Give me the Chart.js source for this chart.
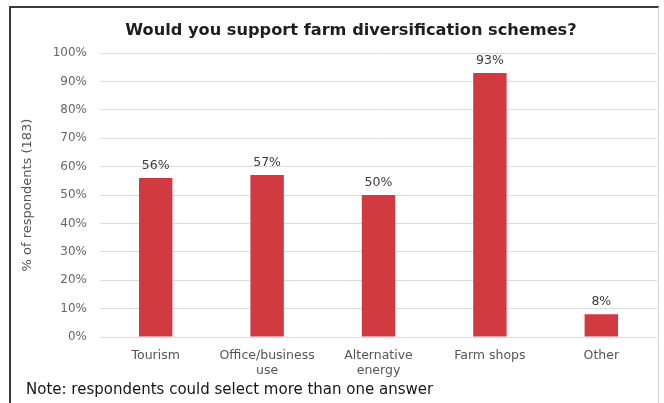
<!DOCTYPE html>
<html>
<head>
<meta charset="utf-8">
<script src="https://cdn.jsdelivr.net/npm/chart.js@4.4.1/dist/chart.umd.min.js"></script>
<style>
  html, body { margin: 0; padding: 0; background: #ffffff; }
  #wrap { position: relative; width: 664px; height: 403px; overflow: hidden; }
  #frame {
    position: absolute; left: 9px; top: 6px; width: 650px; height: 420px;
    border-top: 2px solid #3a3a3a; border-left: 2px solid #3a3a3a;
    border-right: 1px solid #d4d4d4; box-sizing: border-box;
  }
  #title {
    position: absolute; left: 351px; top: 20px; transform: translateX(-50%);
    font: bold 16.2px "DejaVu Sans", Verdana, sans-serif; color: #1e1e1e;
    white-space: nowrap;
  }
  #note {
    position: absolute; left: 26px; top: 380px;
    font: 15px "DejaVu Sans", Verdana, sans-serif; color: #151515;
    white-space: nowrap;
  }
  canvas { position: absolute; left: 0; top: 0; }
</style>
</head>
<body>
<div id="wrap">
  <div id="frame"></div>
  <canvas id="chart" width="664" height="403"></canvas>
  <div id="title">Would you support farm diversification schemes?</div>
  <div id="note">Note: respondents could select more than one answer</div>
</div>
<script>
// Survey answers: share of respondents supporting each diversification scheme
const categories = ["Tourism", ["Office/business", "use"], ["Alternative", "energy"], "Farm shops", "Other"];
const supportPct = [56, 57, 50, 93, 8];
const yTicks = [0, 10, 20, 30, 40, 50, 60, 70, 80, 90, 100];

const FONT = '"DejaVu Sans", Verdana, sans-serif';

// Writes the percentage above every bar
const valueLabels = {
  id: 'valueLabels',
  afterDatasetsDraw(chart) {
    const ctx = chart.ctx;
    const meta = chart.getDatasetMeta(0);
    ctx.save();
    ctx.font = '12.5px ' + FONT;
    ctx.fillStyle = '#3c3c3c';
    ctx.textAlign = 'center';
    ctx.textBaseline = 'alphabetic';
    meta.data.forEach((bar, i) => {
      ctx.fillText(supportPct[i] + '%', bar.x, bar.y - 9);
    });
    ctx.restore();
  }
};

new Chart(document.getElementById('chart'), {
  type: 'bar',
  data: {
    labels: categories,
    datasets: [{
      data: supportPct,
      backgroundColor: '#d03a40',
      borderWidth: 0,
      barPercentage: 0.3,
      categoryPercentage: 1.0
    }]
  },
  options: {
    responsive: false,
    animation: false,
    layout: { padding: { left: 10, right: 7, top: 53, bottom: 0 } },
    plugins: {
      legend: { display: false },
      tooltip: { enabled: false },
      title: { display: false }
    },
    scales: {
      x: {
        grid: { display: false, drawTicks: false },
        border: { display: false },
        ticks: {
          color: '#555',
          font: { family: FONT, size: 12.5, lineHeight: 1.2 },
          padding: 11,
          maxRotation: 0,
          autoSkip: false
        },
        afterFit(scale) { scale.height = 66; }
      },
      y: {
        min: 0,
        max: 100,
        afterBuildTicks(scale) { scale.ticks = yTicks.map(v => ({ value: v })); },
        grid: { color: '#dcdcdc', drawTicks: false, lineWidth: 1 },
        border: { display: false },
        ticks: {
          color: '#666',
          font: { family: FONT, size: 12 },
          padding: 13,
          callback: v => v + '%'
        },
        title: {
          display: true,
          text: '% of respondents (183)',
          color: '#555',
          font: { family: FONT, size: 13 },
          padding: { top: 10, bottom: 0 }
        },
        afterFit(scale) { scale.width = 90; }
      }
    }
  },
  plugins: [valueLabels]
});
</script>
</body>
</html>
